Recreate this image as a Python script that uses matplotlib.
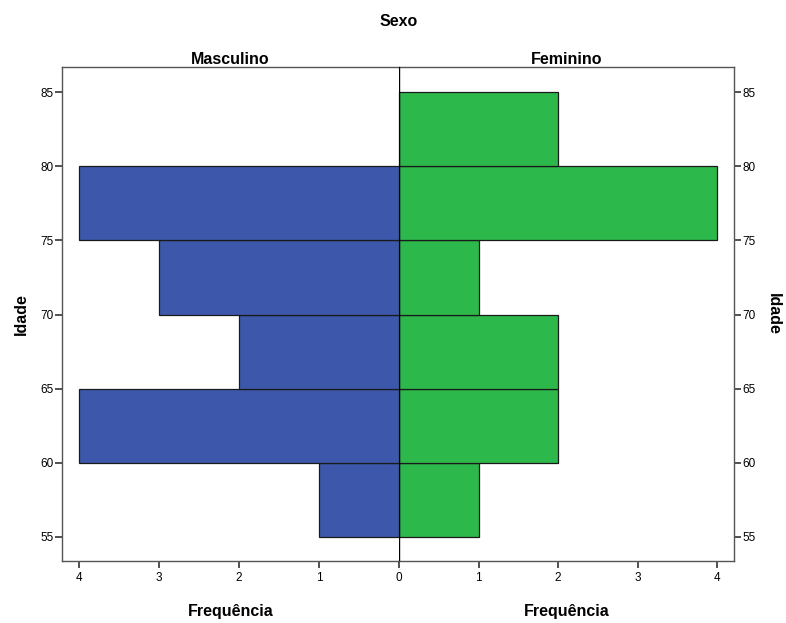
import numpy as np
import matplotlib
matplotlib.use("Agg")
import matplotlib.pyplot as plt

plt.rcParams['font.family'] = ['Liberation Sans', 'DejaVu Sans']

# age class lower edges and counts per sex
age_bins = [55, 60, 65, 70, 75, 80]
masc_counts = [1, 4, 2, 3, 4, 0]
fem_counts = [1, 2, 2, 1, 4, 2]
x_ticks_l = [1, 2, 3, 4]
x_ticks_r = [0, 1, 2, 3, 4]
y_ticks = [55, 60, 65, 70, 75, 80, 85]

BLUE = '#3d58ab'
GREEN = '#2db84b'
EDGE = '#1a1a1a'
SPINE = '#555555'

W, H = 786, 623
fig = plt.figure(figsize=(W / 100, H / 100), dpi=100)

left, mid, right = 62, 399, 734
top, bottom = 67, 561
ax_l = fig.add_axes([left / W, 1 - bottom / H, (mid - left) / W, (bottom - top) / H])
ax_r = fig.add_axes([mid / W, 1 - bottom / H, (right - mid) / W, (bottom - top) / H])

ylim = (53.38, 86.69)
xmax = 4.21

for ax, counts, color, xt in [(ax_l, masc_counts, BLUE, x_ticks_l),
                              (ax_r, fem_counts, GREEN, x_ticks_r)]:
    ax.barh(age_bins, counts, height=5, align='edge', color=color,
            edgecolor=EDGE, linewidth=0.9)
    ax.set_ylim(*ylim)
    ax.set_xlim(0, xmax)
    ax.set_xticks(xt)
    ax.set_xticklabels([str(t) for t in xt], fontsize=8.5)
    ax.set_yticks(y_ticks)
    ax.set_yticklabels([str(t) for t in y_ticks], fontsize=8.5)
    ax.tick_params(direction='out', length=5, width=1.2, color='#333333', pad=3)
    for s in ax.spines.values():
        s.set_color(SPINE)
        s.set_linewidth(1.0)
    ax.set_xlabel('Frequência', fontsize=11.5, fontweight='bold', labelpad=14)

ax_l.invert_xaxis()
ax_l.spines['right'].set_visible(False)
ax_r.spines['left'].set_visible(False)
ax_r.yaxis.tick_right()
ax_r.yaxis.set_label_position('right')
ax_r.tick_params(axis='y', left=False, right=True, labelleft=False, labelright=True, pad=1)
ax_l.tick_params(axis='y', pad=1)

# centre zero line
ax_r.axvline(0, color='black', linewidth=1.0, zorder=5)

ax_l.set_ylabel('Idade', fontsize=11.5, fontweight='bold', labelpad=8)
ax_r.set_ylabel('Idade', fontsize=11.5, fontweight='bold', rotation=-90, labelpad=18)

ax_l.set_title('Masculino', fontsize=11.5, fontweight='bold', pad=2)
ax_r.set_title('Feminino', fontsize=11.5, fontweight='bold', pad=2)
fig.text(mid / W, 1 - 22 / H, 'Sexo', ha='center', va='center',
         fontsize=11.5, fontweight='bold')

fig.savefig('out.png', dpi=100)
